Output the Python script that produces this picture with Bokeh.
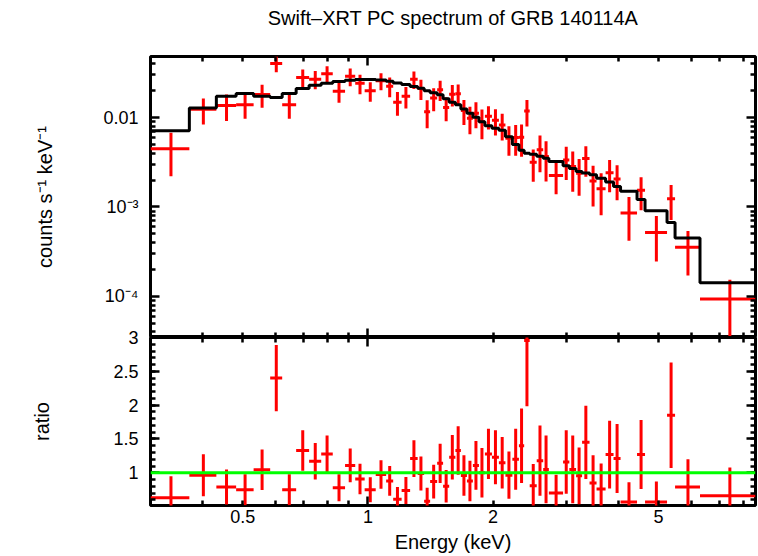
from bokeh.plotting import figure
from bokeh.layouts import column
from bokeh.models import (FixedTicker, LogAxis, LinearAxis, Span,
                          ColumnDataSource, CustomJSTickFormatter)
from bokeh.embed import file_html
from bokeh.resources import INLINE

# ---------------- data ----------------
bin_edges = [0.300, 0.372, 0.432, 0.482, 0.531, 0.582, 0.622, 0.672, 0.722, 0.772,
             0.823, 0.881, 0.932, 0.982, 1.044, 1.106, 1.150, 1.205, 1.263, 1.317,
             1.365, 1.411, 1.467, 1.516, 1.568, 1.623, 1.673, 1.730, 1.788, 1.849,
             1.911, 1.987, 2.065, 2.141, 2.225, 2.307, 2.375, 2.449, 2.546, 2.639,
             2.723, 2.946, 3.050, 3.166, 3.273, 3.411, 3.546, 3.728, 3.896, 4.050,
             4.437, 4.638, 5.239, 5.477, 6.288, 8.55]

model_counts = [0.0071, 0.0128, 0.0173, 0.0186, 0.0173, 0.0168, 0.0186, 0.0211, 0.0230, 0.0242,
                0.0253, 0.0261, 0.0266, 0.0266, 0.0264, 0.0255, 0.0244, 0.0234, 0.0222, 0.0213,
                0.0200, 0.0190, 0.0180, 0.0162, 0.0148, 0.0139, 0.0125, 0.0112, 0.0101, 0.0090,
                0.0081, 0.0076, 0.0072, 0.0061, 0.0050, 0.0043, 0.0040, 0.0039, 0.0037, 0.0035,
                0.00322, 0.0029, 0.0027, 0.0025, 0.0024, 0.0023, 0.0021, 0.0019, 0.0017, 0.0015,
                0.00121, 0.00091, 0.00067, 0.00045, 0.000142]

ratio = [0.63, 0.965, 0.79, 0.75, 1.045, 2.40, 0.75, 1.33, 1.17, 1.28,
         0.78, 1.11, 0.91, 0.75, 0.975, 0.88, 0.61, 0.74, 1.21, 0.99,
         0.58, 0.87, 1.14, 0.80, 1.23, 1.33, 0.96, 0.88, 1.11, 1.00,
         1.28, 1.23, 1.15, 0.965, 1.20, 1.40, 2.955, 0.81, 1.18, 1.05,
         0.70, 1.16, 1.05, 0.955, 1.45, 0.85, 0.76, 1.27, 1.21, 0.57,
         1.27, 0.57, 1.85, 0.79, 0.66]

ratio_err = [0.32, 0.31, 0.26, 0.23, 0.30, 0.49, 0.23, 0.30, 0.27, 0.27,
             0.20, 0.25, 0.225, 0.185, 0.21, 0.22, 0.18, 0.20, 0.27, 0.25,
             0.20, 0.25, 0.29, 0.24, 0.33, 0.36, 0.30, 0.30, 0.36, 0.365,
             0.37, 0.40, 0.38, 0.35, 0.45, 0.55, 0.97, 0.32, 0.52, 0.50,
             0.27, 0.47, 0.50, 0.42, 0.54, 0.41, 0.376, 0.50, 0.51, 0.29,
             0.51, 0.30, 0.78, 0.41, 0.42]

x_tick_values = [0.5, 1, 2, 5]
x_minor_values = [0.4, 0.6, 0.7, 0.8, 0.9, 3, 4, 6, 7, 8]
flux_tick_values = [1e-4, 1e-3, 1e-2]
flux_minor_values = [m * d for d in (1e-5, 1e-4, 1e-3, 1e-2) for m in range(2, 10)]
ratio_tick_values = [1, 1.5, 2, 2.5, 3]
ratio_minor_values = [round(0.6 + 0.1 * i, 1) for i in range(24)]

title_text = "Swift\u2013XRT PC spectrum of GRB 140114A"
FONT = "Liberation Sans"

# ---------------- derived table ----------------
lo = bin_edges[:-1]
hi = bin_edges[1:]
xc = [(a + b) / 2 for a, b in zip(lo, hi)]
counts = [r * m for r, m in zip(ratio, model_counts)]
counts_err = [e * m for e, m in zip(ratio_err, model_counts)]

spec = ColumnDataSource(dict(lo=lo, hi=hi, x=xc, y=counts,
                             ylo=[c - e for c, e in zip(counts, counts_err)],
                             yhi=[c + e for c, e in zip(counts, counts_err)]))
rat = ColumnDataSource(dict(lo=lo, hi=hi, x=xc, y=ratio,
                            ylo=[r - e for r, e in zip(ratio, ratio_err)],
                            yhi=[r + e for r, e in zip(ratio, ratio_err)]))


def style_axis(ax, ticks, minor, major_len=9, minor_len=5, labels=True, fmt=None):
    ax.ticker = FixedTicker(ticks=ticks, minor_ticks=minor)
    ax.axis_line_color = None
    ax.major_tick_in = major_len
    ax.major_tick_out = 0
    ax.minor_tick_in = minor_len
    ax.minor_tick_out = 0
    ax.major_tick_line_width = 2.5
    ax.minor_tick_line_width = 2.5
    ax.major_tick_line_color = "black"
    ax.minor_tick_line_color = "black"
    if labels:
        ax.major_label_text_font = FONT
        ax.major_label_text_font_size = "18px"
        ax.major_label_text_color = "black"
        if fmt is not None:
            ax.formatter = fmt
    else:
        ax.major_label_text_font_size = "1px"
        ax.major_label_text_color = None
        ax.major_label_standoff = 0


def style_axis_label(ax, text, standoff):
    ax.axis_label = text
    ax.axis_label_text_font = FONT
    ax.axis_label_text_font_size = "20px"
    ax.axis_label_text_font_style = "normal"
    ax.axis_label_text_color = "black"
    ax.axis_label_standoff = standoff


flux_fmt = CustomJSTickFormatter(code="""
if (tick > 5e-3) return "0.01";
if (tick > 5e-4) return "10\\u207B\\u00B3";
return "10\\u207B\\u2074";
""")
ratio_fmt = CustomJSTickFormatter(code="""
return (Math.abs(tick - Math.round(tick)) < 1e-9) ? tick.toFixed(0) : tick.toFixed(1);
""")
x_fmt = CustomJSTickFormatter(code="""
return (tick < 1) ? tick.toFixed(1) : tick.toFixed(0);
""")

OVER = 12      # overlap of the ratio canvas onto the spectrum canvas
ALL_X_MINOR = x_minor_values + [0.5, 2, 5]

# ---------------- top panel ----------------
top = figure(width=758, height=337, x_axis_type="log", y_axis_type="log",
             x_range=(0.3, 8.55), y_range=(3.47e-5, 0.0482),
             output_backend="svg", toolbar_location=None,
             min_border_left=150, min_border_right=3, min_border_top=56,
             min_border_bottom=0)
top.grid.grid_line_color = None
top.outline_line_color = "black"
top.outline_line_width = 3
top.background_fill_color = "white"
top.border_fill_color = "white"

style_axis(top.xaxis[0], [1], ALL_X_MINOR, labels=False)
style_axis(top.yaxis[0], flux_tick_values, flux_minor_values, fmt=flux_fmt)
top.yaxis[0].major_label_standoff = 12
style_axis_label(top.yaxis[0], "counts s\u207B\u00B9 keV\u207B\u00B9", 44)

ax_t = LogAxis()
style_axis(ax_t, [1], ALL_X_MINOR, labels=False)
style_axis_label(ax_t, title_text, 28)   # chart title carried by the top axis
top.add_layout(ax_t, "above")
ax_r = LogAxis()
style_axis(ax_r, flux_tick_values, flux_minor_values, labels=False)
top.add_layout(ax_r, "right")

top.segment(x0="lo", y0="y", x1="hi", y1="y", source=spec,
            line_color="#ff0000", line_width=3)
top.segment(x0="x", y0="ylo", x1="x", y1="yhi", source=spec,
            line_color="#ff0000", line_width=3)
top.step(x=bin_edges, y=model_counts + [model_counts[-1]], mode="after",
         line_color="black", line_width=3)

# ---------------- ratio panel ----------------
bot = figure(width=758, height=219 + OVER, x_axis_type="log",
             x_range=top.x_range, y_range=(0.517, 3.0),
             output_backend="svg", toolbar_location=None,
             min_border_left=150, min_border_right=3, min_border_top=OVER,
             min_border_bottom=51, margin=(-OVER, 0, 0, 0))
bot.grid.grid_line_color = None
bot.outline_line_color = "black"
bot.outline_line_width = 3
bot.background_fill_color = "white"
bot.border_fill_color = None

# ticks only (long tick at 1 keV), then a second axis that carries the labels
style_axis(bot.xaxis[0], [1], ALL_X_MINOR, labels=False)
bx_lab = LogAxis()
style_axis(bx_lab, x_tick_values, [], major_len=0, minor_len=0, fmt=x_fmt)
bx_lab.major_label_standoff = 4
style_axis_label(bx_lab, "Energy (keV)", 5)
bot.add_layout(bx_lab, "below")

style_axis(bot.yaxis[0], ratio_tick_values, ratio_minor_values, fmt=ratio_fmt)
bot.yaxis[0].major_label_standoff = 12
style_axis_label(bot.yaxis[0], "ratio", 57)

bx_t = LogAxis()
style_axis(bx_t, [1], ALL_X_MINOR, labels=False)
bot.add_layout(bx_t, "above")
by_r = LinearAxis()
style_axis(by_r, ratio_tick_values, ratio_minor_values, labels=False)
bot.add_layout(by_r, "right")

bot.segment(x0="lo", y0="y", x1="hi", y1="y", source=rat,
            line_color="#ff0000", line_width=3)
bot.segment(x0="x", y0="ylo", x1="x", y1="yhi", source=rat,
            line_color="#ff0000", line_width=3)
bot.add_layout(Span(location=1.0, dimension="width", line_color="#00ff00",
                    line_width=3))

layout = column(top, bot)
with open("out.html", "w", encoding="utf-8") as f:
    f.write(file_html(layout, INLINE))
